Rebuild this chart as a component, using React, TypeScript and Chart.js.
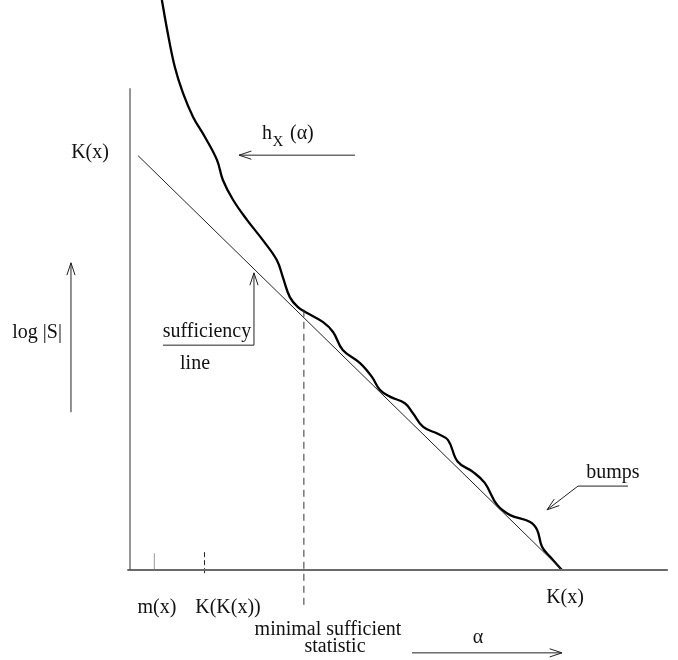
import React, { useEffect, useRef } from "react";
import { Chart, registerables } from "chart.js";

Chart.register(...registerables);

// Horizontal axis: alpha ; vertical axis: log |S| (arbitrary units)
const K_X = 80; // K(x)
const M_X = 4.5; // m(x)
const KK_X = 13.8; // K(K(x))
const MSS_X = 32.2; // minimal sufficient statistic

// structure function h_x(alpha)
const curveAlpha = [5.9, 7.0, 8.3, 9.8, 11.7, 13.9, 16.1, 17.2, 19.1, 21.7, 24.6, 27.2, 28.3, 29.6, 31.1, 32.8, 35.7, 37.6, 39.4, 42.6, 44.8, 46.3, 48.2, 50.9, 52.4, 54.3, 57.0, 58.9, 60.7, 63.5, 65.7, 68.0, 70.4, 74.1, 75.4, 76.3, 77.8, 80.0];
const curveLogS = [108, 101.7, 95.3, 90.4, 85.8, 82.0, 77.7, 73.9, 70.1, 66.3, 62.5, 58.7, 55.5, 51.7, 49.8, 48.7, 47.0, 45.1, 41.7, 39.2, 36.6, 34.1, 32.8, 31.6, 29.7, 27.1, 25.8, 24.6, 20.5, 18.6, 16.5, 12.3, 10.4, 9.1, 7.6, 4.4, 2.5, 0];

// sufficiency line
const lineAlpha = [1.5, K_X];
const lineLogS = [78.5, 0];

// axis extents
const yAxisTop = 91.3;
const xAxisRange = [-0.5, 99.6];

const zip = (xs: number[], ys: number[]) => xs.map((x, i) => ({ x, y: ys[i] }));

const FONT = '"Liberation Serif", "Times New Roman", serif';

// labels: [text, alpha, logS]
const labels: [string, number, number][] = [
  ["K(x)", -7.4, 79.0],
  ["log |S|", -17.2, 44.9],
  ["sufficiency", 14.26, 45.1],
  ["line", 12.04, 39.0],
  ["bumps", 89.44, 18.4],
  ["m(x)", 5.0, -7.2],
  ["K(K(x))", 18.15, -7.2],
  ["K(x)", 80.56, -5.3],
  ["minimal sufficient", 36.67, -11.4],
  ["statistic", 37.96, -14.6],
  ["\u03b1", 64.44, -12.9],
];

// arrows: polylines, head at last point
const arrows: [number, number][][] = [
  [[41.67, 78.6], [20.19, 78.6]],
  [[-10.93, 29.9], [-10.93, 58.2]],
  [[6.11, 42.6], [22.96, 42.6], [22.96, 56.3]],
  [[92.22, 15.9], [82.96, 15.9], [77.22, 11.4]],
  [[52.22, -15.7], [80.0, -15.7]],
];

const annotate = {
  id: "annotate",
  afterDatasetsDraw(chart: any) {
    const { ctx } = chart;
    const xs = chart.scales.x;
    const ys = chart.scales.y;
    const X = (v: number) => xs.getPixelForValue(v);
    const Y = (v: number) => ys.getPixelForValue(v);
    ctx.save();
    ctx.fillStyle = "#111";
    ctx.font = `20px ${FONT}`;
    ctx.textAlign = "center";
    ctx.textBaseline = "middle";
    for (const [t, a, s] of labels) ctx.fillText(t, X(a), Y(s));

    // h_X (alpha)
    const hx = X(24.44);
    const hy = Y(81.66);
    ctx.textAlign = "left";
    ctx.textBaseline = "alphabetic";
    ctx.fillText("h", hx, hy);
    ctx.font = `15px ${FONT}`;
    ctx.fillText("X", hx + 10.5, hy + 7);
    ctx.font = `20px ${FONT}`;
    ctx.fillText("(\u03b1)", hx + 28, hy);

    // arrows
    ctx.strokeStyle = "#222";
    ctx.lineWidth = 1;
    for (const pts of arrows) {
      ctx.beginPath();
      pts.forEach(([a, s], i) => {
        if (i === 0) ctx.moveTo(X(a), Y(s));
        else ctx.lineTo(X(a), Y(s));
      });
      ctx.stroke();
      const [a1, s1] = pts[pts.length - 2];
      const [a2, s2] = pts[pts.length - 1];
      const x1 = X(a1), y1 = Y(s1), x2 = X(a2), y2 = Y(s2);
      const ang = Math.atan2(y2 - y1, x2 - x1);
      const len = 13;
      const spread = 0.32;
      ctx.beginPath();
      ctx.moveTo(x2 - len * Math.cos(ang - spread), y2 - len * Math.sin(ang - spread));
      ctx.lineTo(x2, y2);
      ctx.lineTo(x2 - len * Math.cos(ang + spread), y2 - len * Math.sin(ang + spread));
      ctx.stroke();
    }
    ctx.restore();
  },
};

export default function App() {
  const ref = useRef<HTMLCanvasElement>(null);
  useEffect(() => {
    document.body.style.margin = "0";
    const base = { showLine: true, pointRadius: 0, clip: false as any, fill: false };
    const chart = new Chart(ref.current!, {
      type: "scatter",
      data: {
        datasets: [
          { ...base, data: zip([0, 0], [0, yAxisTop]), borderColor: "#505050", borderWidth: 1.2 },
          { ...base, data: zip(xAxisRange, [0, 0]), borderColor: "#6a6a6a", borderWidth: 2 },
          { ...base, data: zip([M_X, M_X], [0, 3.2]), borderColor: "#999", borderWidth: 1 },
          { ...base, data: zip([KK_X, KK_X], [-0.6, 3.4]), borderColor: "#222", borderWidth: 1, borderDash: [5, 3] },
          { ...base, data: zip([MSS_X, MSS_X], [49.3, -6.8]), borderColor: "#333", borderWidth: 1, borderDash: [7, 5] },
          { ...base, data: zip(lineAlpha, lineLogS), borderColor: "#222", borderWidth: 1 },
          {
            ...base,
            data: zip(curveAlpha, curveLogS),
            borderColor: "#000",
            borderWidth: 2.3,
            tension: 0.4,
          },
        ] as any,
      },
      options: {
        animation: false,
        responsive: false,
        maintainAspectRatio: false,
        layout: { padding: { left: 130, right: 8, top: 0, bottom: 90 } },
        plugins: { legend: { display: false }, tooltip: { enabled: false } },
        events: [],
        scales: {
          x: { type: "linear", min: 0, max: 100, display: false },
          y: { type: "linear", min: 0, max: 108, display: false },
        },
      },
      plugins: [annotate],
    });
    return () => chart.destroy();
  }, []);
  return (
    <div style={{ width: 678, height: 660, background: "#fff" }}>
      <canvas ref={ref} width={678} height={660} />
    </div>
  );
}
